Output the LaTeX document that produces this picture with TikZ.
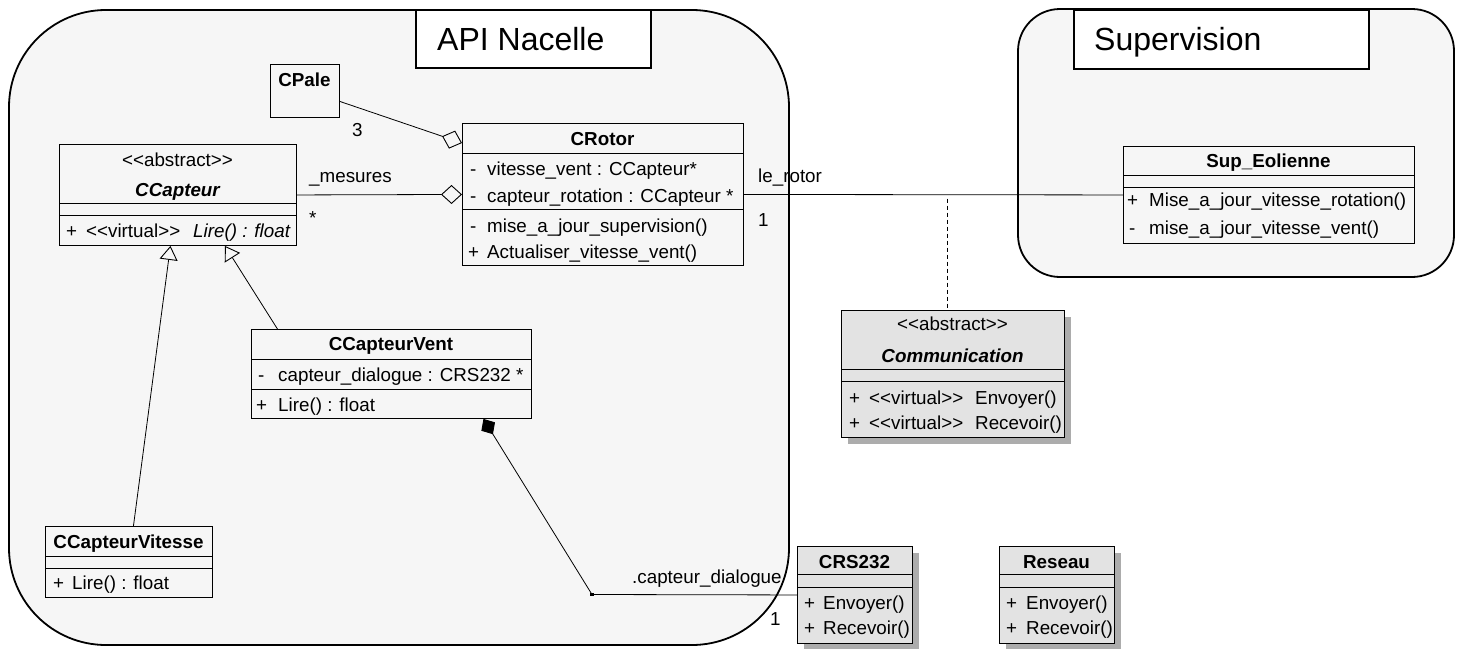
\documentclass[tikz,border=0pt]{standalone}
\usepackage{fontspec}
\setmainfont{Liberation Sans}
\usetikzlibrary{arrows.meta,calc}

% text sizes
\newcommand\cf{\fontsize{18.8}{22}\selectfont}
\newcommand\pf{\fontsize{32}{36}\selectfont}
% stereotype brackets, kept apart so they are not turned into guillemets
\newcommand\stereo[1]{<\kern0pt<#1>\kern0pt>}

\tikzset{
  x=1pt, y=-1pt,
  pkg/.style={draw, line width=1.8pt, fill=gray!7},
  pkglabel/.style={draw, line width=1.8pt, fill=white, inner sep=0, anchor=north west},
  cls/.style={draw, line width=0.9pt, inner sep=0, anchor=north west},
  clsgray/.style={cls, fill=gray!22},
  shade/.style={fill=gray!65, draw=none},
  sep/.style={line width=0.9pt},
  txt/.style={inner sep=0, anchor=base west, font=\cf},
  ctxt/.style={txt, anchor=base},
  cname/.style={ctxt, font=\cf\bfseries},
  link/.style={line width=0.8pt},
  aggr/.style={link, -{Diamond[open, length=21pt, width=19pt, line width=0.9pt]}},
  comp/.style={link, -{Diamond[length=18pt, width=16pt]}},
  gen/.style={link, -{Triangle[open, length=14pt, width=18pt, line width=0.9pt]}},
  dep/.style={link, dash pattern=on 4pt off 3pt},
}

\begin{document}
\begin{tikzpicture}
\useasboundingbox (0,0) rectangle (1464,648);

% ---------- packages ----------
\draw[pkg, rounded corners=97pt] (9,10) rectangle (789,645);
\node[pkglabel, minimum width=235pt, minimum height=58pt] (apibox) at (415,9) {};
\node[txt, font=\pf] (apititle) at (437,50) {API Nacelle};

\draw[pkg, rounded corners=42pt] (1018,9) rectangle (1454,277);
\node[pkglabel, minimum width=295pt, minimum height=59pt] (supbox) at (1073,9) {};
\node[txt, font=\pf] (suptitle) at (1094,50) {Supervision};

% ---------- CPale ----------
\node[cls, minimum width=69pt, minimum height=53pt] (cpale) at (270,64) {};
\node[cname] (cpale-n) at (304.5,86) {CPale};

% ---------- CRotor ----------
\node[cls, minimum width=281pt, minimum height=142pt] (crotor) at (462,123) {};
\draw[sep] (462,153) -- (743,153);
\draw[sep] (462,209) -- (743,209);
\node[cname] (crotor-n) at (602.5,145) {CRotor};
\node[txt] (crotor-v1) at (470,175) {-};
\node[txt] (crotor-a1) at (487,175) {vitesse\_vent : CCapteur*};
\node[txt] (crotor-v2) at (470,202) {-};
\node[txt] (crotor-a2) at (487,202) {capteur\_rotation : CCapteur *};
\node[txt] (crotor-v3) at (470,232) {-};
\node[txt] (crotor-m1) at (487,232) {mise\_a\_jour\_supervision()};
\node[txt] (crotor-v4) at (468,258) {+};
\node[txt] (crotor-m2) at (487,258) {Actualiser\_vitesse\_vent()};

% ---------- CCapteur ----------
\node[cls, minimum width=237pt, minimum height=101pt] (ccapteur) at (59,144) {};
\draw[sep] (59,203) -- (296,203);
\draw[sep] (59,215) -- (296,215);
\node[ctxt] (ccapteur-st) at (177.5,166) {\stereo{abstract}};
\node[cname, font=\cf\bfseries\itshape] (ccapteur-n) at (177.5,196) {CCapteur};
\node[txt] (ccapteur-v1) at (66,237) {+};
\node[txt] (ccapteur-s1) at (86,237) {\stereo{virtual}};
\node[txt, font=\cf\itshape] (ccapteur-m1) at (193,237) {Lire() : float};

% ---------- CCapteurVent ----------
\node[cls, minimum width=280pt, minimum height=89pt] (ccvent) at (251,329) {};
\draw[sep] (251,359) -- (531,359);
\draw[sep] (251,389) -- (531,389);
\node[cname] (ccvent-n) at (391,350) {CCapteurVent};
\node[txt] (ccvent-v1) at (258,381) {-};
\node[txt] (ccvent-a1) at (278,381) {capteur\_dialogue : CRS232 *};
\node[txt] (ccvent-v2) at (256,411) {+};
\node[txt] (ccvent-m1) at (278,411) {Lire() : float};

% ---------- CCapteurVitesse ----------
\node[cls, minimum width=167pt, minimum height=71pt] (ccvit) at (45,526) {};
\draw[sep] (45,556) -- (212,556);
\draw[sep] (45,568) -- (212,568);
\node[cname] (ccvit-n) at (128.5,548) {CCapteurVitesse};
\node[txt] (ccvit-v1) at (53,589) {+};
\node[txt] (ccvit-m1) at (72,589) {Lire() : float};

% ---------- Sup_Eolienne ----------
\node[cls, minimum width=291pt, minimum height=97pt] (supeol) at (1123,146) {};
\draw[sep] (1123,175) -- (1414,175);
\draw[sep] (1123,187) -- (1414,187);
\node[cname] (supeol-n) at (1268.5,167.5) {Sup\_Eolienne};
\node[txt] (supeol-v1) at (1127,206) {+};
\node[txt] (supeol-m1) at (1149,206) {Mise\_a\_jour\_vitesse\_rotation()};
\node[txt] (supeol-v2) at (1129,234) {-};
\node[txt] (supeol-m2) at (1149,234) {mise\_a\_jour\_vitesse\_vent()};

% ---------- Communication ----------
\fill[shade] (848,317) rectangle (1071,444);
\node[clsgray, minimum width=223pt, minimum height=127pt] (comm) at (841,310) {};
\draw[sep] (841,369) -- (1064,369);
\draw[sep] (841,381) -- (1064,381);
\node[ctxt] (comm-st) at (952.5,330) {\stereo{abstract}};
\node[cname, font=\cf\bfseries\itshape] (comm-n) at (952.5,362) {Communication};
\node[txt] (comm-v1) at (849,404) {+};
\node[txt] (comm-s1) at (869,404) {\stereo{virtual}};
\node[txt] (comm-m1) at (975,404) {Envoyer()};
\node[txt] (comm-v2) at (849,429) {+};
\node[txt] (comm-s2) at (869,429) {\stereo{virtual}};
\node[txt] (comm-m2) at (975,429) {Recevoir()};

% ---------- CRS232 ----------
\fill[shade] (804,553) rectangle (919,650);
\node[clsgray, minimum width=115pt, minimum height=97pt] (crs) at (797,546) {};
\draw[sep] (797,574) -- (912,574);
\draw[sep] (797,587) -- (912,587);
\node[cname] (crs-n) at (854.5,568) {CRS232};
\node[txt] (crs-v1) at (804,609) {+};
\node[txt] (crs-m1) at (823,609) {Envoyer()};
\node[txt] (crs-v2) at (804,634) {+};
\node[txt] (crs-m2) at (823,634) {Recevoir()};

% ---------- Reseau ----------
\fill[shade] (1006,553) rectangle (1121,650);
\node[clsgray, minimum width=115pt, minimum height=97pt] (reseau) at (999,546) {};
\draw[sep] (999,574) -- (1114,574);
\draw[sep] (999,587) -- (1114,587);
\node[cname] (reseau-n) at (1056.5,568) {Reseau};
\node[txt] (reseau-v1) at (1006,609) {+};
\node[txt] (reseau-m1) at (1026,609) {Envoyer()};
\node[txt] (reseau-v2) at (1006,634) {+};
\node[txt] (reseau-m2) at (1026,634) {Recevoir()};

% ---------- relations ----------
\draw[aggr] ($(cpale.east)+(0,10.5)$) -- ($(crotor.north west)+(0,20)$);
\node[txt] (lbl-3) at (352,136) {3};

\draw[aggr] (ccapteur.east) -- (crotor.west);
\node[txt] (lbl-mes) at (309,182) {\_mesures};
\node[txt] (lbl-star) at (309,224) {*};

\draw[link] (crotor.east) -- (supeol.west);
\node[txt] (lbl-rot) at (758,182) {le\_rotor};
\node[txt] (lbl-one) at (758,226) {1};

\coordinate (assoc) at (947,194.5);
\draw[dep] ($(assoc)+(0,4)$) -- (assoc |- comm.north);

\draw[gen] ($(ccvit.north)+(4.5,0)$) -- ($(ccapteur.south)+(-7.5,0)$);
\draw[gen] ($(ccvent.north)+(-114,0)$) -- ($(ccapteur.south)+(47,0)$);

\coordinate (bend) at (592,594.5);
\draw[comp] (crs.west) -- (bend) -- ($(ccvent.south)+(92,0)$);
\fill ($(bend)+(-1.6,-1.6)$) rectangle ($(bend)+(1.6,1.6)$);
\node[txt] (lbl-dlg) at (632,583) {.capteur\_dialogue};
\node[txt] (lbl-one2) at (770,625) {1};
\end{tikzpicture}
\end{document}
